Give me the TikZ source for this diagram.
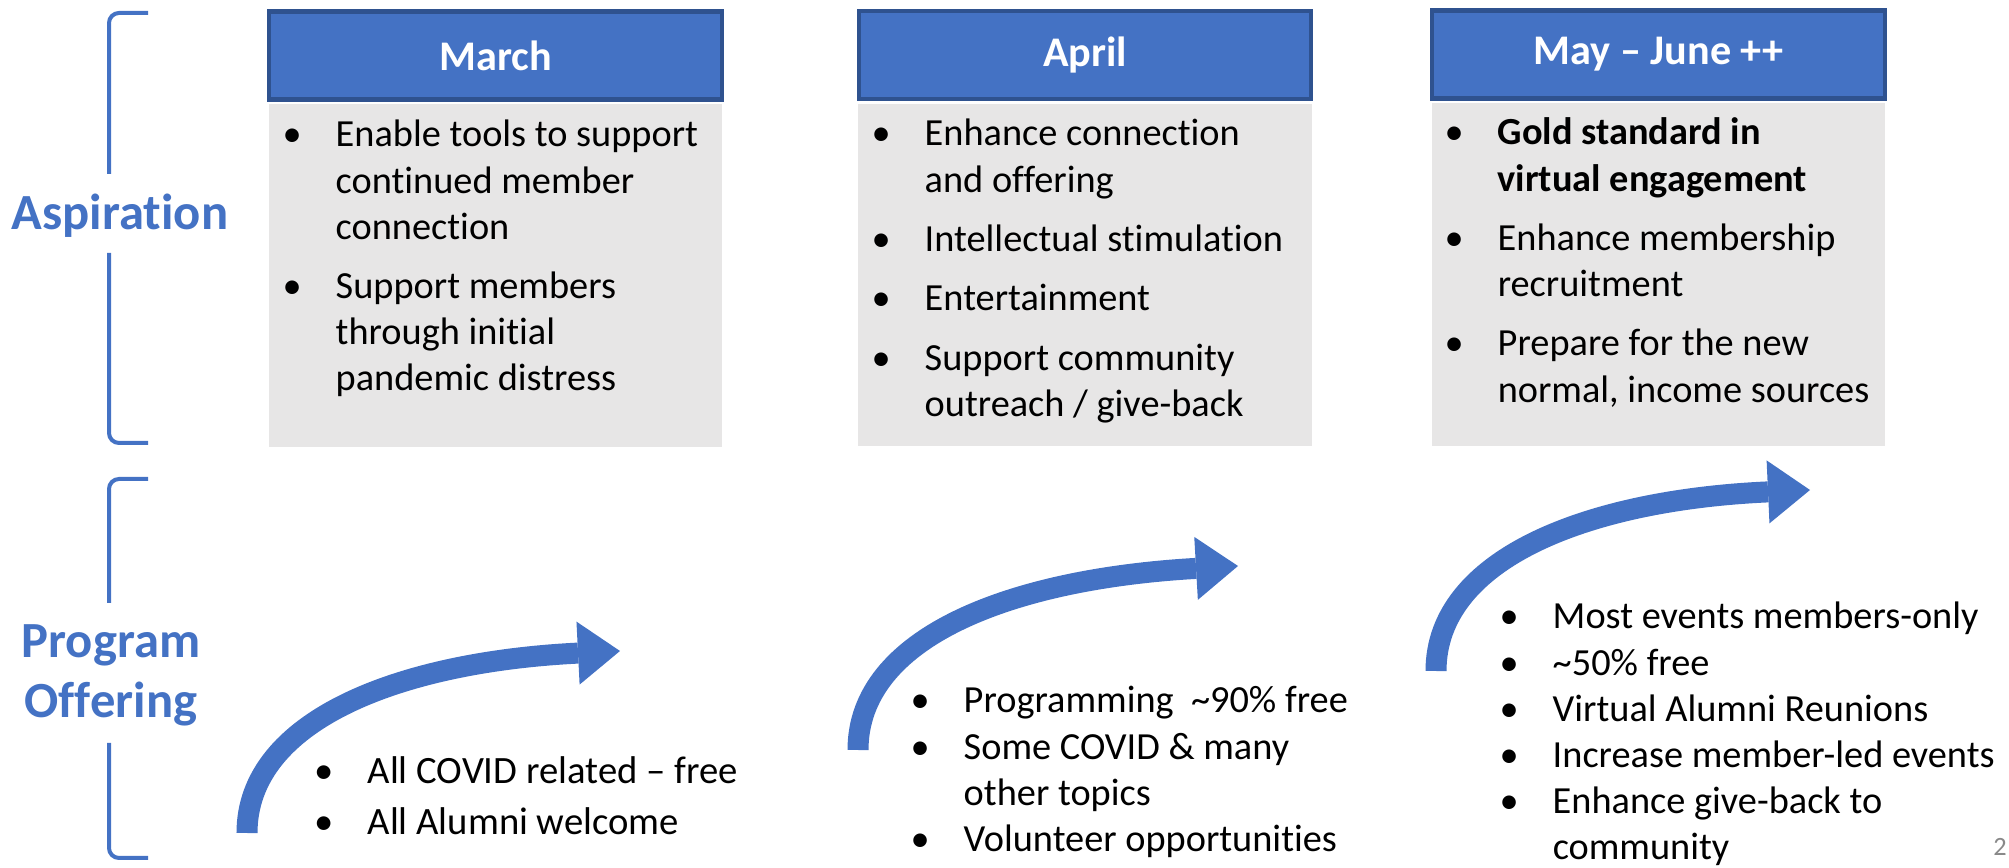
\documentclass[tikz,border=0pt]{standalone}
\usepackage{fontspec}
\setmainfont{Carlito}[Ligatures={TeX,NoCommon}]
\usetikzlibrary{positioning,arrows.meta}
\definecolor{accent}{HTML}{4472C4}
\definecolor{accentdark}{HTML}{2F528F}
\definecolor{panelgray}{HTML}{E7E6E6}
\definecolor{pagegray}{HTML}{898989}
\newcommand\pitem{\par\noindent\hangindent=0.53cm\hangafter=1\makebox[0.53cm][l]{\textbullet}\ignorespaces}
\newcommand\blist[2]{\begin{minipage}[t]{6cm}\setlength\parskip{#1}#2\end{minipage}}
\tikzset{
	month/.style={draw=accentdark, line width=1.2pt, fill=accent, text=white, minimum width=4.52cm, minimum height=0.88cm, inner sep=0pt, font=\fontsize{12}{14}\selectfont\bfseries},
	panelbox/.style={fill=panelgray, minimum width=4.53cm, minimum height=3.42cm, inner sep=0pt},
	bullets/.style={anchor=base west, inner sep=0pt, font=\fontsize{10.9}{13.1}\selectfont},
	side/.style={anchor=base, inner sep=0pt, text=accent, font=\fontsize{14.4}{17}\selectfont\bfseries},
	bracket/.style={accent, line width=0.04cm, rounded corners=0.1cm},
	sweep/.style={accent, line width=0.21cm, -{Triangle[length=0.42cm,width=0.63cm,line width=0pt]}}
}
\begin{document}
\begin{tikzpicture}[x=0.01cm, y=-0.01cm]
	\useasboundingbox (0,0) rectangle (2009,868);
	% side labels
	\draw [bracket] (148,13) -- (109,13) -- (109,174);
	\draw [bracket] (109,253) -- (109,443) -- (148,443);
	\node [side] (aspir) at (120,230) {Aspiration};
	\draw [bracket] (148,479) -- (109,479) -- (109,603);
	\draw [bracket] (109,743) -- (109,858) -- (148,858);
	\node [side] (prog) at (111,658) {Program};
	\node [side] (offer) at (111,718) {Offering};

	% month columns
	\node [month] (march) at (495.5,55.5) {March};
	\node [panelbox, below=0.02cm of march] (marchpanel) {};
	\node [month] (april) at (1085,55) {April};
	\node [panelbox, below=0.02cm of april] (aprilpanel) {};
	\node [month] (may) at (1658.5,54.5) {May -- June ++};
	\node [panelbox, below=0.02cm of may] (maypanel) {};

	\node [bullets] (marchaim) at (282,147) {\blist{3.8pt}{%
		\pitem Enable tools to support\\continued member\\connection
		\pitem Support members\\through initial\\pandemic distress}};
	\node [bullets] (aprilaim) at (871,146) {\blist{3.8pt}{%
		\pitem Enhance connection\\and offering
		\pitem Intellectual stimulation
		\pitem Entertainment
		\pitem Support community\\outreach / give-back}};
	\node [bullets] (mayaim) at (1444,145) {\blist{3.8pt}{%
		\pitem \textbf{Gold standard in\\virtual engagement}
		\pitem Enhance membership\\recruitment
		\pitem Prepare for the new\\normal, income sources}};

	% program offering
	\draw [sweep] (247,833) .. controls (247,720) and (400,662) .. (620,651);
	\draw [sweep] (858,750) .. controls (858,637) and (1011,579) .. (1238,566);
	\draw [sweep] (1436,671) .. controls (1436,558) and (1589,500) .. (1810,490);

	\node [bullets, font=\fontsize{11}{14.5}\selectfont] (marchoffer) at (314,784) {\blist{0pt}{%
		\pitem All COVID related -- free
		\pitem All Alumni welcome}};
	\node [bullets] (apriloffer) at (910,713) {\blist{0pt}{%
		\pitem Programming\ \ \textasciitilde90\% free
		\pitem Some COVID \& many\\other topics
		\pitem Volunteer opportunities}};
	\node [bullets] (mayoffer) at (1499,629) {\blist{0pt}{%
		\pitem Most events members-only
		\pitem \textasciitilde50\% free
		\pitem Virtual Alumni Reunions
		\pitem Increase member-led events
		\pitem Enhance give-back to\\community}};

	\node [anchor=base, inner sep=0pt, text=pagegray, font=\fontsize{7.5}{9}\selectfont] (pagenum) at (2000,856) {2};
\end{tikzpicture}
\end{document}
